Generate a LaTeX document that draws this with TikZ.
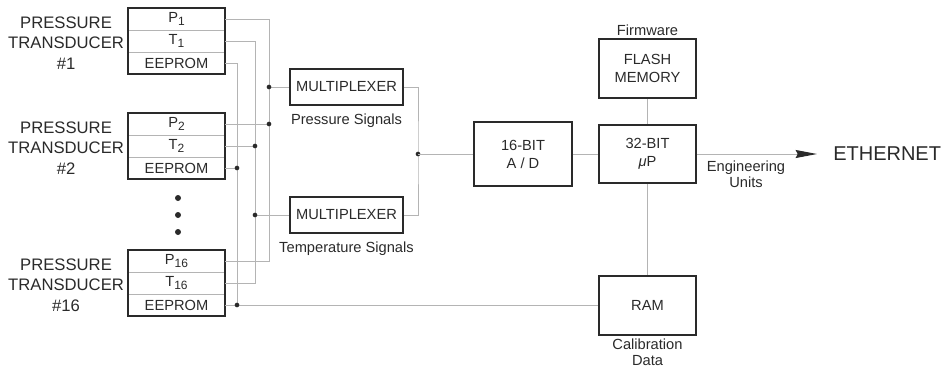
\documentclass[tikz,border=0pt]{standalone}
\usepackage{fontspec}
\setmainfont{Liberation Sans}
\usepackage{tikz}
\usetikzlibrary{arrows.meta,positioning,fit}
\definecolor{trait}{HTML}{2A2A2A}
\definecolor{gris}{HTML}{B4B4B4}
\newcommand{\indice}[1]{\raisebox{-2.6pt}{\fontsize{9}{9}\selectfont #1}}

\begin{document}
\begin{tikzpicture}[x=0.75pt,y=-0.75pt,
  bloc/.style={draw=trait,line width=1.2pt,minimum width=72.75pt,align=center,font=\fontsize{11}{13.5}\selectfont,inner sep=0pt,text=trait},
  cell/.style={draw=gris,line width=0.75pt,minimum width=72.75pt,minimum height=16.5pt,inner sep=0pt,outer sep=0pt,font=\fontsize{11}{13}\selectfont,text=trait},
  capteur/.style={draw=trait,line width=1.2pt,inner sep=0pt},
  titre/.style={align=center,font=\fontsize{12.5}{15.4}\selectfont,inner sep=0pt,text=trait},
  legende/.style={align=center,font=\fontsize{11}{12}\selectfont,inner sep=1pt,text=trait},
  liaison/.style={draw=gris,line width=0.75pt},
  jonction/.style={circle,fill=trait,inner sep=0pt,minimum size=3.5pt}]
  \useasboundingbox (0,0) rectangle (942,369);
  % transducers
  \foreach \y/\n [count=\i] in {8/1,113/2,250/16}{
    \node[cell] (p\i) at (176.5,\y+11) {P\indice{\n}};
    \node[cell,below=0pt of p\i] (t\i) {T\indice{\n}};
    \node[cell,below=0pt of t\i] (e\i) {EEPROM};
    \node[capteur,fit=(p\i)(e\i)] (s\i) {};
    \node[titre,left=2.25pt of s\i,yshift=-1.5pt] (l\i) {PRESSURE\\TRANSDUCER\\\#\n};
  }
  \foreach \y in {198,215,232} \node[jonction,minimum size=4.5pt] at (178,\y) {};
  % blocks
  \node[bloc,minimum width=84.75pt,minimum height=27pt] (muxp) at (346.5,87) {MULTIPLEXER};
  \node[bloc,minimum width=84.75pt,minimum height=27pt] (muxt) at (346.5,215) {MULTIPLEXER};
  \node[legende,below=4.5pt of muxp] {Pressure Signals};
  \node[legende,below=4.5pt of muxt] {Temperature Signals};
  \node[bloc,minimum width=73.5pt,minimum height=48pt] (ad) at (523,154) {16-BIT\\A / D};
  \node[bloc,minimum height=43.5pt] (mu) at (647.5,154) {32-BIT\\\textit{μ}P};
  \node[bloc,minimum height=44.25pt] (flash) at (647.5,68.5) {FLASH\\MEMORY};
  \node[bloc,minimum height=44.25pt] (ram) at (647.5,305.5) {RAM};
  \node[legende,above=1pt of flash] {Firmware};
  \node[legende,below=1pt of ram] {Calibration\\Data};
  \node[legende] (eng) at (746,174) {Engineering\\Units};
  \node[font=\fontsize{15}{18}\selectfont,inner xsep=12pt,inner ysep=0pt,anchor=west,text=trait] (eth) at (817,154) {ETHERNET};
  % buses
  \coordinate (busp) at (269,0);
  \coordinate (bust) at (255,0);
  \coordinate (buse) at (237,0);
  \coordinate (mout) at (418,154);
  \draw[liaison] (p1.east) -| (busp |- p3.east) -- (p3.east);
  \draw[liaison] (t1.east) -| (bust |- t3.east) -- (t3.east);
  \draw[liaison] (e1.east) -| (buse |- e3.east);
  \draw[liaison] (p2.east) -- (busp |- p2.east) node[jonction]{};
  \draw[liaison] (t2.east) -- (bust |- t2.east) node[jonction]{};
  \draw[liaison] (e2.east) -- (buse |- e2.east) node[jonction]{};
  \draw[liaison] (busp |- muxp.west) node[jonction]{} -- (muxp.west);
  \draw[liaison] (bust |- muxt.west) node[jonction]{} -- (muxt.west);
  \draw[liaison] (e3.east) -- (e3.east -| ram.west);
  \node[jonction] at (buse |- e3.east) {};
  \draw[liaison] (muxp.east) -| (mout) |- (muxt.east);
  \node[jonction] at (mout) {};
  \draw[liaison] (mout) -- (ad.west);
  \draw[liaison] (ad) -- (mu);
  \draw[liaison] (flash) -- (mu);
  \draw[liaison] (mu) -- (ram);
  \draw[liaison,-{Stealth[length=16pt,width=6pt,inset=1.5pt,color=trait]}] (mu) -- (eth);
\end{tikzpicture}
\end{document}
